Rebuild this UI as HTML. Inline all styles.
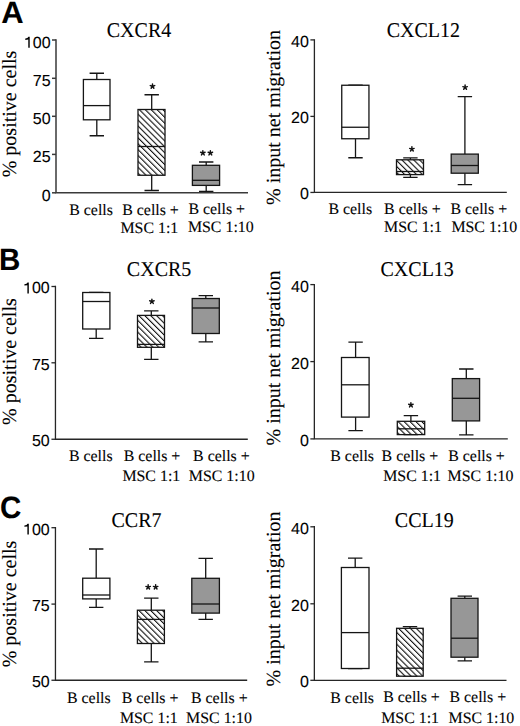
<!DOCTYPE html><html><head><meta charset="utf-8"><style>html,body{margin:0;padding:0;background:#fff;width:520px;height:726px;overflow:hidden}svg{display:block;text-rendering:geometricPrecision}text{stroke:#000;stroke-width:.1px}</style></head><body>
<svg width="520" height="726" viewBox="0 0 520 726">
<defs><pattern id="hp" patternUnits="userSpaceOnUse" width="4.17" height="20" patternTransform="rotate(-45) translate(-0.41 0)"><rect x="0" y="0" width="1.1" height="20" fill="#111"/></pattern></defs>
<rect width="520" height="726" fill="#fff"/>
<g><text transform="translate(1.2 22.6) scale(1.05 1.05)" font-family='"Liberation Sans", sans-serif' font-weight="bold" font-size="29.5" fill="#000">A</text><text transform="translate(139 36.5) scale(1 1.05)" text-anchor="middle" font-family='"Liberation Serif", serif' font-size="20.0" fill="#000">CXCR4</text><text transform="translate(16 114) rotate(-90)" text-anchor="middle" font-family='"Liberation Serif", serif' font-size="20.0" fill="#000">% positive cells</text><path d="M56 39.25V192.8H248" fill="none" stroke="#3a3a3a" stroke-width="1.5"/><path d="M52 40H56" stroke="#3a3a3a" stroke-width="1.5"/><text transform="translate(50.6 47.7) scale(1.0 1.0)" text-anchor="end" font-family='"Liberation Sans", sans-serif' font-size="16.0" fill="#000">00</text><polygon points="29.72,36.80 29.72,47.70 28.28,47.70 28.28,39.50 25.30,39.90 25.30,38.60 27.40,38.00 28.40,36.80" fill="#000"/><path d="M52 78.3H56" stroke="#3a3a3a" stroke-width="1.5"/><text transform="translate(50.6 86) scale(1.0 1.0)" text-anchor="end" font-family='"Liberation Sans", sans-serif' font-size="16.0" fill="#000">75</text><path d="M52 116.3H56" stroke="#3a3a3a" stroke-width="1.5"/><text transform="translate(50.6 124) scale(1.0 1.0)" text-anchor="end" font-family='"Liberation Sans", sans-serif' font-size="16.0" fill="#000">50</text><path d="M52 154.4H56" stroke="#3a3a3a" stroke-width="1.5"/><text transform="translate(50.6 162.1) scale(1.0 1.0)" text-anchor="end" font-family='"Liberation Sans", sans-serif' font-size="16.0" fill="#000">25</text><path d="M52 192.8H56" stroke="#3a3a3a" stroke-width="1.5"/><text transform="translate(50.6 200.5) scale(1.0 1.0)" text-anchor="end" font-family='"Liberation Sans", sans-serif' font-size="16.0" fill="#000">0</text><path d="M96.8 73.25V79.5M96.8 119.8V135.75M89.6 73.25H104M89.6 135.75H104" fill="none" stroke="#151515" stroke-width="1.3"/><rect x="83.4" y="79.5" width="26.6" height="40.3" fill="#fff" stroke="#151515" stroke-width="1.3"/><path d="M83.4 105.6H110" stroke="#151515" stroke-width="1.3"/><path d="M151.7 94.75V109.5M151.7 175.25V190.5M144.5 94.75H158.9M144.5 190.5H158.9" fill="none" stroke="#151515" stroke-width="1.3"/><rect x="138" y="109.5" width="27" height="65.75" fill="#fff"/><rect x="138" y="109.5" width="27" height="65.75" fill="url(#hp)" stroke="#151515" stroke-width="1.3"/><path d="M138 146.5H165" stroke="#151515" stroke-width="1.3"/><path d="M206.2 162V165.3M206.2 185.4V191.3M199 162H213.4M199 191.3H213.4" fill="none" stroke="#151515" stroke-width="1.3"/><rect x="192.4" y="165.3" width="27.2" height="20.1" fill="#979797" stroke="#151515" stroke-width="1.3"/><path d="M192.4 180.3H219.6" stroke="#151515" stroke-width="1.3"/><path d="M152.50 86.30L152.50 83.95M152.50 86.30L154.73 85.57M152.50 86.30L153.88 88.20M152.50 86.30L151.12 88.20M152.50 86.30L150.27 85.57" stroke="#111" stroke-width="1.45" stroke-linecap="round" fill="none"/><path d="M202.85 153.00L202.85 150.65M202.85 153.00L205.08 152.27M202.85 153.00L204.23 154.90M202.85 153.00L201.47 154.90M202.85 153.00L200.62 152.27" stroke="#111" stroke-width="1.45" stroke-linecap="round" fill="none"/><path d="M210.35 153.00L210.35 150.65M210.35 153.00L212.58 152.27M210.35 153.00L211.73 154.90M210.35 153.00L208.97 154.90M210.35 153.00L208.12 152.27" stroke="#111" stroke-width="1.45" stroke-linecap="round" fill="none"/><text transform="translate(69.2 215) scale(1 1.0)" font-family='"Liberation Serif", serif' font-size="15.9" fill="#000">B cells</text><text transform="translate(122.2 214.6) scale(1 1.0)" font-family='"Liberation Serif", serif' font-size="15.9" fill="#000">B cells +</text><text transform="translate(120.45 232.5) scale(1 1.0)" font-family='"Liberation Serif", serif' font-size="15.9" fill="#000">MSC 1:1</text><text transform="translate(188.4 214.4) scale(1 1.0)" font-family='"Liberation Serif", serif' font-size="15.9" fill="#000">B cells +</text><text transform="translate(187.9 232.2) scale(1 1.0)" font-family='"Liberation Serif", serif' font-size="15.9" fill="#000">MSC 1:10</text></g>
<g><text transform="translate(423.3 36.5) scale(1 1.05)" text-anchor="middle" font-family='"Liberation Serif", serif' font-size="20.0" fill="#000">CXCL12</text><text transform="translate(280.4 117.5) rotate(-90)" text-anchor="middle" font-family='"Liberation Serif", serif' font-size="20.0" fill="#000">% input net migration</text><path d="M314.4 39.25V192.45H506.8" fill="none" stroke="#262626" stroke-width="1.3"/><path d="M310.4 39.9H314.4" stroke="#262626" stroke-width="1.3"/><text transform="translate(308.8 46.8) scale(1.0 1.0)" text-anchor="end" font-family='"Liberation Sans", sans-serif' font-size="16.0" fill="#000">40</text><path d="M310.4 116.4H314.4" stroke="#262626" stroke-width="1.3"/><text transform="translate(308.8 123.3) scale(1.0 1.0)" text-anchor="end" font-family='"Liberation Sans", sans-serif' font-size="16.0" fill="#000">20</text><path d="M310.4 192.45H314.4" stroke="#262626" stroke-width="1.3"/><text transform="translate(308.8 199.35) scale(1.0 1.0)" text-anchor="end" font-family='"Liberation Sans", sans-serif' font-size="16.0" fill="#000">0</text><path d="M355.5 85.25V85.25M355.5 138.75V157.75M348.3 85.25H362.7M348.3 157.75H362.7" fill="none" stroke="#151515" stroke-width="1.3"/><rect x="341.75" y="85.25" width="27.2" height="53.5" fill="#fff" stroke="#151515" stroke-width="1.3"/><path d="M341.75 127.25H368.95" stroke="#151515" stroke-width="1.3"/><path d="M410.4 157.9V159.8M410.4 174.6V177.3M403.2 157.9H417.6M403.2 177.3H417.6" fill="none" stroke="#151515" stroke-width="1.3"/><rect x="396.5" y="159.8" width="27" height="14.8" fill="#fff"/><rect x="396.5" y="159.8" width="27" height="14.8" fill="url(#hp)" stroke="#151515" stroke-width="1.3"/><path d="M396.5 171.5H423.5" stroke="#151515" stroke-width="1.3"/><path d="M464.9 96.6V154.1M464.9 173.2V184.6M457.7 96.6H472.1M457.7 184.6H472.1" fill="none" stroke="#151515" stroke-width="1.3"/><rect x="451.2" y="154.1" width="27.1" height="19.1" fill="#979797" stroke="#151515" stroke-width="1.3"/><path d="M451.2 165.5H478.3" stroke="#151515" stroke-width="1.3"/><path d="M411.90 149.10L411.90 146.75M411.90 149.10L414.13 148.37M411.90 149.10L413.28 151.00M411.90 149.10L410.52 151.00M411.90 149.10L409.67 148.37" stroke="#111" stroke-width="1.45" stroke-linecap="round" fill="none"/><path d="M465.10 87.40L465.10 85.05M465.10 87.40L467.33 86.67M465.10 87.40L466.48 89.30M465.10 87.40L463.72 89.30M465.10 87.40L462.87 86.67" stroke="#111" stroke-width="1.45" stroke-linecap="round" fill="none"/><text transform="translate(328.4 213.8) scale(1 1.0)" font-family='"Liberation Serif", serif' font-size="15.9" fill="#000">B cells</text><text transform="translate(384.1 213.8) scale(1 1.0)" font-family='"Liberation Serif", serif' font-size="15.9" fill="#000">B cells +</text><text transform="translate(384.1 231.5) scale(1 1.0)" font-family='"Liberation Serif", serif' font-size="15.9" fill="#000">MSC 1:1</text><text transform="translate(450.5 213.8) scale(1 1.0)" font-family='"Liberation Serif", serif' font-size="15.9" fill="#000">B cells +</text><text transform="translate(451.4 231.5) scale(1 1.0)" font-family='"Liberation Serif", serif' font-size="15.9" fill="#000">MSC 1:10</text></g>
<g><text transform="translate(-0.9 270) scale(1.0 1.05)" font-family='"Liberation Sans", sans-serif' font-weight="bold" font-size="29.5" fill="#000">B</text><text transform="translate(159.1 275.6) scale(1 1.05)" text-anchor="middle" font-family='"Liberation Serif", serif' font-size="20.0" fill="#000">CXCR5</text><text transform="translate(16.3 361.6) rotate(-90)" text-anchor="middle" font-family='"Liberation Serif", serif' font-size="20.0" fill="#000">% positive cells</text><path d="M55.45 285.85V439.25H247.8" fill="none" stroke="#262626" stroke-width="1.3"/><path d="M51.45 286.5H55.45" stroke="#262626" stroke-width="1.3"/><text transform="translate(49.7 293.4) scale(1.0 1.0)" text-anchor="end" font-family='"Liberation Sans", sans-serif' font-size="16.0" fill="#000">00</text><polygon points="28.82,282.50 28.82,293.40 27.38,293.40 27.38,285.20 24.40,285.60 24.40,284.30 26.50,283.70 27.50,282.50" fill="#000"/><path d="M51.45 362.8H55.45" stroke="#262626" stroke-width="1.3"/><text transform="translate(49.7 369.7) scale(1.0 1.0)" text-anchor="end" font-family='"Liberation Sans", sans-serif' font-size="16.0" fill="#000">75</text><path d="M51.45 439.25H55.45" stroke="#262626" stroke-width="1.3"/><text transform="translate(49.7 446.15) scale(1.0 1.0)" text-anchor="end" font-family='"Liberation Sans", sans-serif' font-size="16.0" fill="#000">50</text><path d="M96.2 292.5V292.5M96.2 329V338.3M89 292.5H103.4M89 338.3H103.4" fill="none" stroke="#151515" stroke-width="1.3"/><rect x="82.7" y="292.5" width="27.2" height="36.5" fill="#fff" stroke="#151515" stroke-width="1.3"/><path d="M82.7 301.5H109.9" stroke="#151515" stroke-width="1.3"/><path d="M151.3 310.8V315.4M151.3 347.3V359.4M144.1 310.8H158.5M144.1 359.4H158.5" fill="none" stroke="#151515" stroke-width="1.3"/><rect x="137.5" y="315.4" width="27" height="31.9" fill="#fff"/><rect x="137.5" y="315.4" width="27" height="31.9" fill="url(#hp)" stroke="#151515" stroke-width="1.3"/><path d="M137.5 344.4H164.5" stroke="#151515" stroke-width="1.3"/><path d="M205.8 295.7V298.5M205.8 333.5V341.8M198.6 295.7H213M198.6 341.8H213" fill="none" stroke="#151515" stroke-width="1.3"/><rect x="192.2" y="298.5" width="27.1" height="35" fill="#979797" stroke="#151515" stroke-width="1.3"/><path d="M192.2 308H219.3" stroke="#151515" stroke-width="1.3"/><path d="M151.90 301.50L151.90 299.15M151.90 301.50L154.13 300.77M151.90 301.50L153.28 303.40M151.90 301.50L150.52 303.40M151.90 301.50L149.67 300.77" stroke="#111" stroke-width="1.45" stroke-linecap="round" fill="none"/><text transform="translate(68.9 461.2) scale(1 1.0)" font-family='"Liberation Serif", serif' font-size="15.9" fill="#000">B cells</text><text transform="translate(123.7 461) scale(1 1.0)" font-family='"Liberation Serif", serif' font-size="15.9" fill="#000">B cells +</text><text transform="translate(122.4 481) scale(1 1.0)" font-family='"Liberation Serif", serif' font-size="15.9" fill="#000">MSC 1:1</text><text transform="translate(193.1 460.7) scale(1 1.0)" font-family='"Liberation Serif", serif' font-size="15.9" fill="#000">B cells +</text><text transform="translate(188.8 480.8) scale(1 1.0)" font-family='"Liberation Serif", serif' font-size="15.9" fill="#000">MSC 1:10</text></g>
<g><text transform="translate(417.2 276) scale(1 1.05)" text-anchor="middle" font-family='"Liberation Serif", serif' font-size="20.0" fill="#000">CXCL13</text><text transform="translate(280 358) rotate(-90)" text-anchor="middle" font-family='"Liberation Serif", serif' font-size="20.0" fill="#000">% input net migration</text><path d="M314.35 283.95V438.9H507.8" fill="none" stroke="#262626" stroke-width="1.3"/><path d="M310.35 284.6H314.35" stroke="#262626" stroke-width="1.3"/><text transform="translate(308.8 291.5) scale(1.0 1.0)" text-anchor="end" font-family='"Liberation Sans", sans-serif' font-size="16.0" fill="#000">40</text><path d="M310.35 361.6H314.35" stroke="#262626" stroke-width="1.3"/><text transform="translate(308.8 368.5) scale(1.0 1.0)" text-anchor="end" font-family='"Liberation Sans", sans-serif' font-size="16.0" fill="#000">20</text><path d="M310.35 438.9H314.35" stroke="#262626" stroke-width="1.3"/><text transform="translate(308.8 445.8) scale(1.0 1.0)" text-anchor="end" font-family='"Liberation Sans", sans-serif' font-size="16.0" fill="#000">0</text><path d="M355.6 342.1V357.5M355.6 417.1V430.6M348.4 342.1H362.8M348.4 430.6H362.8" fill="none" stroke="#151515" stroke-width="1.3"/><rect x="341.5" y="357.5" width="27.6" height="59.6" fill="#fff" stroke="#151515" stroke-width="1.3"/><path d="M341.5 384.8H369.1" stroke="#151515" stroke-width="1.3"/><path d="M410.9 415.6V421.3M410.9 434.6V434.6M403.7 415.6H418.1M403.7 434.6H418.1" fill="none" stroke="#151515" stroke-width="1.3"/><rect x="397.3" y="421.3" width="27.4" height="13.3" fill="#fff"/><rect x="397.3" y="421.3" width="27.4" height="13.3" fill="url(#hp)" stroke="#151515" stroke-width="1.3"/><path d="M397.3 428.8H424.7" stroke="#151515" stroke-width="1.3"/><path d="M466.3 369V378.6M466.3 420.9V434.9M459.1 369H473.5M459.1 434.9H473.5" fill="none" stroke="#151515" stroke-width="1.3"/><rect x="452.3" y="378.6" width="27.3" height="42.3" fill="#979797" stroke="#151515" stroke-width="1.3"/><path d="M452.3 398.3H479.6" stroke="#151515" stroke-width="1.3"/><path d="M410.90 405.00L410.90 402.65M410.90 405.00L413.13 404.27M410.90 405.00L412.28 406.90M410.90 405.00L409.52 406.90M410.90 405.00L408.67 404.27" stroke="#111" stroke-width="1.45" stroke-linecap="round" fill="none"/><text transform="translate(330.3 460.8) scale(1 1.0)" font-family='"Liberation Serif", serif' font-size="15.9" fill="#000">B cells</text><text transform="translate(381.6 460.8) scale(1 1.0)" font-family='"Liberation Serif", serif' font-size="15.9" fill="#000">B cells +</text><text transform="translate(383.2 480.8) scale(1 1.0)" font-family='"Liberation Serif", serif' font-size="15.9" fill="#000">MSC 1:1</text><text transform="translate(448.2 460.8) scale(1 1.0)" font-family='"Liberation Serif", serif' font-size="15.9" fill="#000">B cells +</text><text transform="translate(447.6 481.3) scale(1 1.0)" font-family='"Liberation Serif", serif' font-size="15.9" fill="#000">MSC 1:10</text></g>
<g><text transform="translate(0.07 517.5) scale(1.0 1.05)" font-family='"Liberation Sans", sans-serif' font-weight="bold" font-size="29.5" fill="#000">C</text><text transform="translate(136.5 527.3) scale(1 1.05)" text-anchor="middle" font-family='"Liberation Serif", serif' font-size="20.0" fill="#000">CCR7</text><text transform="translate(16.3 604) rotate(-90)" text-anchor="middle" font-family='"Liberation Serif", serif' font-size="20.0" fill="#000">% positive cells</text><path d="M55.45 527.05V680.25H247.2" fill="none" stroke="#262626" stroke-width="1.3"/><path d="M51.45 527.7H55.45" stroke="#262626" stroke-width="1.3"/><text transform="translate(49.7 534.6) scale(1.0 1.0)" text-anchor="end" font-family='"Liberation Sans", sans-serif' font-size="16.0" fill="#000">00</text><polygon points="28.82,523.70 28.82,534.60 27.38,534.60 27.38,526.40 24.40,526.80 24.40,525.50 26.50,524.90 27.50,523.70" fill="#000"/><path d="M51.45 604.1H55.45" stroke="#262626" stroke-width="1.3"/><text transform="translate(49.7 611) scale(1.0 1.0)" text-anchor="end" font-family='"Liberation Sans", sans-serif' font-size="16.0" fill="#000">75</text><path d="M51.45 680.25H55.45" stroke="#262626" stroke-width="1.3"/><text transform="translate(49.7 687.15) scale(1.0 1.0)" text-anchor="end" font-family='"Liberation Sans", sans-serif' font-size="16.0" fill="#000">50</text><path d="M96.2 549V578.2M96.2 598.9V607.3M89 549H103.4M89 607.3H103.4" fill="none" stroke="#151515" stroke-width="1.3"/><rect x="82.7" y="578.2" width="27.2" height="20.7" fill="#fff" stroke="#151515" stroke-width="1.3"/><path d="M82.7 595H109.9" stroke="#151515" stroke-width="1.3"/><path d="M151.3 598.1V610.2M151.3 643.5V661.9M144.1 598.1H158.5M144.1 661.9H158.5" fill="none" stroke="#151515" stroke-width="1.3"/><rect x="137.4" y="610.2" width="27" height="33.3" fill="#fff"/><rect x="137.4" y="610.2" width="27" height="33.3" fill="url(#hp)" stroke="#151515" stroke-width="1.3"/><path d="M137.4 619.4H164.4" stroke="#151515" stroke-width="1.3"/><path d="M205.7 558.3V578.3M205.7 613.1V619.3M198.5 558.3H212.9M198.5 619.3H212.9" fill="none" stroke="#151515" stroke-width="1.3"/><rect x="191.8" y="578.3" width="27.6" height="34.8" fill="#979797" stroke="#151515" stroke-width="1.3"/><path d="M191.8 604H219.4" stroke="#151515" stroke-width="1.3"/><path d="M148.15 587.10L148.15 584.75M148.15 587.10L150.38 586.37M148.15 587.10L149.53 589.00M148.15 587.10L146.77 589.00M148.15 587.10L145.92 586.37" stroke="#111" stroke-width="1.45" stroke-linecap="round" fill="none"/><path d="M155.65 587.10L155.65 584.75M155.65 587.10L157.88 586.37M155.65 587.10L157.03 589.00M155.65 587.10L154.27 589.00M155.65 587.10L153.42 586.37" stroke="#111" stroke-width="1.45" stroke-linecap="round" fill="none"/><text transform="translate(67 702.5) scale(1 1.0)" font-family='"Liberation Serif", serif' font-size="15.9" fill="#000">B cells</text><text transform="translate(121.8 702.5) scale(1 1.0)" font-family='"Liberation Serif", serif' font-size="15.9" fill="#000">B cells +</text><text transform="translate(119.9 723.1) scale(1 1.0)" font-family='"Liberation Serif", serif' font-size="15.9" fill="#000">MSC 1:1</text><text transform="translate(191 702.5) scale(1 1.0)" font-family='"Liberation Serif", serif' font-size="15.9" fill="#000">B cells +</text><text transform="translate(186.1 723.2) scale(1 1.0)" font-family='"Liberation Serif", serif' font-size="15.9" fill="#000">MSC 1:10</text></g>
<g><text transform="translate(424.3 527.3) scale(1 1.05)" text-anchor="middle" font-family='"Liberation Serif", serif' font-size="20.0" fill="#000">CCL19</text><text transform="translate(280 599) rotate(-90)" text-anchor="middle" font-family='"Liberation Serif", serif' font-size="20.0" fill="#000">% input net migration</text><path d="M314.35 526.05V680.3H506.5" fill="none" stroke="#262626" stroke-width="1.3"/><path d="M310.35 526.8H314.35" stroke="#262626" stroke-width="1.3"/><text transform="translate(308.8 533.7) scale(1.0 1.0)" text-anchor="end" font-family='"Liberation Sans", sans-serif' font-size="16.0" fill="#000">40</text><path d="M310.35 603.8H314.35" stroke="#262626" stroke-width="1.3"/><text transform="translate(308.8 610.7) scale(1.0 1.0)" text-anchor="end" font-family='"Liberation Sans", sans-serif' font-size="16.0" fill="#000">20</text><path d="M310.35 680.3H314.35" stroke="#262626" stroke-width="1.3"/><text transform="translate(308.8 687.2) scale(1.0 1.0)" text-anchor="end" font-family='"Liberation Sans", sans-serif' font-size="16.0" fill="#000">0</text><path d="M355.2 558.2V567.5M355.2 668.5V668.5M348 558.2H362.4M348 668.5H362.4" fill="none" stroke="#151515" stroke-width="1.3"/><rect x="341.4" y="567.5" width="27.6" height="101" fill="#fff" stroke="#151515" stroke-width="1.3"/><path d="M341.4 632.6H369" stroke="#151515" stroke-width="1.3"/><path d="M410 626.6V628.3M410 676.2V676.2M402.8 626.6H417.2M402.8 676.2H417.2" fill="none" stroke="#151515" stroke-width="1.3"/><rect x="396.6" y="628.3" width="26.6" height="47.9" fill="#fff"/><rect x="396.6" y="628.3" width="26.6" height="47.9" fill="url(#hp)" stroke="#151515" stroke-width="1.3"/><path d="M396.6 668.2H423.2" stroke="#151515" stroke-width="1.3"/><path d="M464.8 596.2V598.3M464.8 657.2V660.9M457.6 596.2H472M457.6 660.9H472" fill="none" stroke="#151515" stroke-width="1.3"/><rect x="451" y="598.3" width="27" height="58.9" fill="#979797" stroke="#151515" stroke-width="1.3"/><path d="M451 638.2H478" stroke="#151515" stroke-width="1.3"/><text transform="translate(330.3 702.5) scale(1 1.0)" font-family='"Liberation Serif", serif' font-size="15.9" fill="#000">B cells</text><text transform="translate(383.2 702.1) scale(1 1.0)" font-family='"Liberation Serif", serif' font-size="15.9" fill="#000">B cells +</text><text transform="translate(381.2 722.7) scale(1 1.0)" font-family='"Liberation Serif", serif' font-size="15.9" fill="#000">MSC 1:1</text><text transform="translate(449.5 702.1) scale(1 1.0)" font-family='"Liberation Serif", serif' font-size="15.9" fill="#000">B cells +</text><text transform="translate(448.5 722.7) scale(1 1.0)" font-family='"Liberation Serif", serif' font-size="15.9" fill="#000">MSC 1:10</text></g>
</svg></body></html>
